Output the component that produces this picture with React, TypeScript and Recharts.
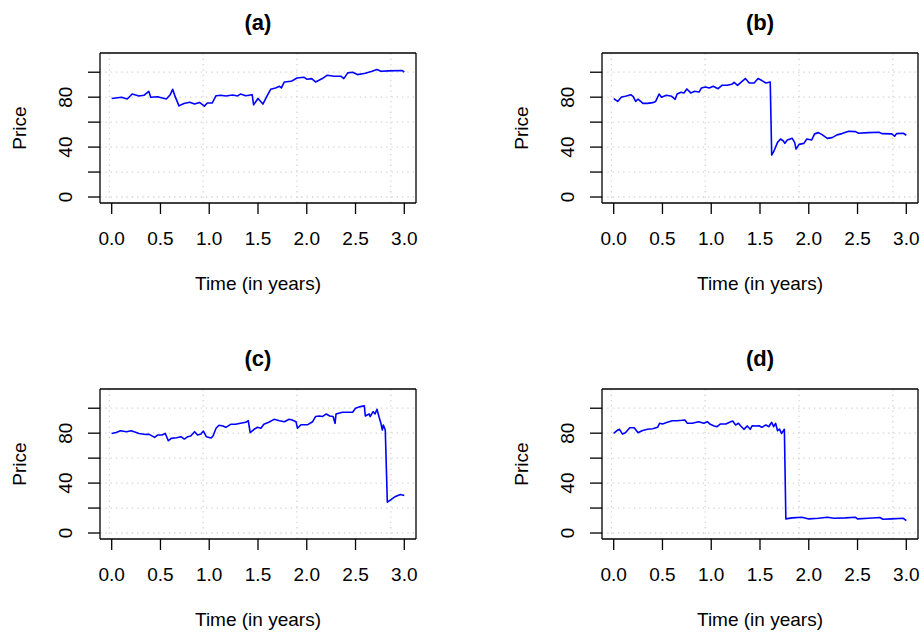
import { Line, LineChart, ReferenceLine, XAxis, YAxis } from "recharts"

// time (years) / price pairs
const pathA: [number, number][] = [
  [0, 79], [0.1, 80], [0.16, 78.5], [0.21, 82.5], [0.28, 81], [0.33, 81.5], [0.38, 84.7], [0.4, 80],
  [0.47, 80.4], [0.56, 78.5], [0.6, 82], [0.625, 86.3], [0.65, 80.6], [0.69, 73], [0.74, 75], [0.8, 76],
  [0.85, 74.5], [0.9, 75.8], [0.95, 72.8], [0.98, 75.3], [1.03, 75.3], [1.07, 81.2], [1.12, 81.5],
  [1.17, 81], [1.24, 81.7], [1.29, 81], [1.32, 82.5], [1.375, 81.2], [1.44, 82], [1.455, 73.9], [1.5, 79],
  [1.55, 74.5], [1.6, 82], [1.63, 86.3], [1.68, 87.4], [1.72, 88.7], [1.74, 87.4], [1.77, 92.2],
  [1.84, 92.7], [1.9, 95.4], [1.97, 96], [2.0, 94.4], [2.05, 94.9], [2.09, 92.2], [2.16, 94.9],
  [2.21, 97.6], [2.28, 96.8], [2.35, 96.8], [2.38, 94.9], [2.42, 99.5], [2.47, 100], [2.52, 98.1],
  [2.6, 99.2], [2.67, 100.8], [2.72, 102.2], [2.76, 100.8], [2.84, 101.1], [2.98, 101.4], [3.0, 100],
]

const pathB: [number, number][] = [
  [0, 78.8], [0.04, 76.6], [0.08, 80.1], [0.12, 80.7], [0.175, 82], [0.2, 80.4], [0.225, 76.6],
  [0.25, 78.5], [0.3, 75], [0.345, 75], [0.4, 75.6], [0.43, 76.6], [0.465, 82.5], [0.49, 79.9],
  [0.54, 81.5], [0.595, 80.7], [0.63, 78.3], [0.65, 82.5], [0.69, 83.9], [0.72, 83.4], [0.75, 86.6],
  [0.79, 83.4], [0.83, 84.7], [0.875, 84.1], [0.9, 87.4], [0.94, 88.2], [0.98, 87.4], [1.02, 88.7],
  [1.07, 86.8], [1.11, 89.5], [1.165, 89.5], [1.21, 90.3], [1.235, 91.9], [1.27, 89.5], [1.31, 92.2],
  [1.35, 94.9], [1.39, 91.4], [1.44, 91.4], [1.48, 94.9], [1.52, 93.3], [1.56, 91.4], [1.605, 92.2],
  [1.62, 33.6], [1.64, 36.3], [1.68, 43.8], [1.71, 46.5], [1.74, 44.9], [1.755, 43], [1.78, 45.7],
  [1.83, 47], [1.855, 43.8], [1.87, 38.4], [1.9, 42.2], [1.95, 43], [1.98, 46.5], [2.03, 45.7],
  [2.06, 50.6], [2.1, 51.6], [2.14, 49.8], [2.19, 47], [2.24, 47.6], [2.29, 49.8], [2.34, 50.8],
  [2.41, 52.7], [2.48, 52.4], [2.51, 51.1], [2.61, 51.6], [2.72, 51.9], [2.75, 50.8], [2.85, 50.6],
  [2.88, 48.7], [2.9, 50.8], [2.97, 51.1], [3.0, 49.5],
]

const pathC: [number, number][] = [
  [0, 79.8], [0.045, 80.6], [0.09, 82], [0.15, 81.2], [0.2, 82], [0.23, 81.2], [0.28, 79.8], [0.35, 79],
  [0.385, 79], [0.44, 76.6], [0.47, 78.5], [0.515, 78.5], [0.55, 79.8], [0.58, 73.9], [0.61, 75.8],
  [0.665, 76.3], [0.71, 77.2], [0.745, 75.3], [0.78, 77.2], [0.81, 77.7], [0.85, 81.2], [0.88, 78.5],
  [0.915, 79.3], [0.94, 81.7], [0.97, 77.2], [1.02, 76.1], [1.04, 78], [1.07, 83.9], [1.1, 86.3],
  [1.14, 85.8], [1.17, 84.7], [1.22, 87.1], [1.27, 87.1], [1.32, 87.9], [1.375, 88.7], [1.4, 90],
  [1.42, 80.4], [1.46, 83.1], [1.495, 84.7], [1.53, 83.9], [1.56, 87.1], [1.61, 88.7], [1.665, 91.1],
  [1.72, 90], [1.77, 89.2], [1.82, 91.1], [1.85, 90.6], [1.89, 89.2], [1.905, 83.9], [1.94, 86.8],
  [2.01, 86.8], [2.06, 89.2], [2.09, 93.3], [2.13, 93.8], [2.16, 93.3], [2.2, 95.4], [2.235, 93.8],
  [2.27, 93.3], [2.29, 87.9], [2.3, 95.4], [2.365, 96.8], [2.47, 96.8], [2.5, 100], [2.55, 101.3],
  [2.59, 101.9], [2.6, 93.8], [2.64, 95.4], [2.65, 93.3], [2.68, 97.3], [2.7, 95.4], [2.72, 99.2],
  [2.74, 93.3], [2.76, 87.9], [2.775, 82.5], [2.785, 86.6], [2.805, 82.5], [2.826, 24.7], [2.86, 26.6],
  [2.91, 29.3], [2.96, 30.9], [3.0, 30.1],
]

const pathD: [number, number][] = [
  [0, 79.8], [0.04, 82.5], [0.06, 83.1], [0.09, 79.3], [0.12, 80.4], [0.165, 84.4], [0.21, 84.4],
  [0.25, 80.4], [0.29, 82], [0.345, 83.1], [0.4, 83.6], [0.45, 84.7], [0.47, 87.9], [0.5, 87.4],
  [0.55, 88.7], [0.6, 90], [0.65, 90], [0.7, 90.3], [0.73, 90.6], [0.755, 87.9], [0.805, 87.9],
  [0.87, 89.2], [0.925, 87.9], [0.96, 89.2], [0.99, 87.1], [1.03, 85.8], [1.06, 85.2], [1.095, 87.4],
  [1.15, 87.4], [1.2, 89.2], [1.22, 89.8], [1.25, 86.6], [1.28, 87.9], [1.3, 86], [1.335, 83.1],
  [1.37, 85.8], [1.4, 83.1], [1.42, 86], [1.455, 85.8], [1.49, 86], [1.52, 84.7], [1.56, 86.6],
  [1.59, 85.2], [1.62, 88.7], [1.64, 85.2], [1.66, 87.9], [1.68, 82], [1.7, 83.3], [1.72, 79.8],
  [1.75, 83.1], [1.765, 11.3], [1.83, 12.1], [1.93, 12.6], [2.0, 11.3], [2.1, 11.8], [2.19, 12.6],
  [2.26, 11.8], [2.375, 12.1], [2.48, 12.6], [2.5, 11.3], [2.61, 11.8], [2.73, 12.4], [2.76, 11],
  [2.85, 11.3], [2.97, 11.8], [3.0, 9.9],
]

const panelTitles = ["(a)", "(b)", "(c)", "(d)"]
const xTicks = [0, 0.5, 1, 1.5, 2, 2.5, 3]
const xTickLabels = ["0.0", "0.5", "1.0", "1.5", "2.0", "2.5", "3.0"]
const yTicks = [0, 20, 40, 60, 80, 100]
const yTickLabels = ["0", "", "40", "", "80", ""]
const gridX = [-0.024, 0.938, 1.9, 2.862]

const FONT = "'Liberation Sans', Arial, Helvetica, sans-serif"
const X_DOMAIN: [number, number] = [-0.12, 3.12]
const Y_DOMAIN: [number, number] = [-4.8, 115.4]
const W = 462
const H = 316
const GRID = "#d3d3d3"
const FS = 19

function XTick(props: any) {
  const { x, y, payload } = props
  const label = xTickLabels[xTicks.indexOf(payload.value)]
  return (
    <g>
      <line x1={x} x2={x} y1={y} y2={y + 11} stroke="#000" strokeWidth={1.3} />
      <text x={x} y={y + 35.5} textAnchor="middle" dominantBaseline="central" fontSize={FS} fontFamily={FONT} fill="#000">
        {label}
      </text>
    </g>
  )
}

function YTick(props: any) {
  const { x, y, payload } = props
  const label = yTickLabels[yTicks.indexOf(payload.value)]
  const lx = x - 34.5
  return (
    <g>
      <line x1={x - 12} x2={x} y1={y} y2={y} stroke="#000" strokeWidth={1.3} />
      {label && (
        <text
          x={lx}
          y={y}
          transform={`rotate(-90, ${lx}, ${y})`}
          textAnchor="middle"
          dominantBaseline="central"
          fontSize={FS}
          fontFamily={FONT}
          fill="#000"
        >
          {label}
        </text>
      )}
    </g>
  )
}

function Panel({ path, title }: { path: [number, number][]; title: string }) {
  const data = path.map(([t, p]) => ({ t, p }))
  return (
    <LineChart width={W} height={H} data={data} margin={{ top: 53, right: 46, left: 0, bottom: 0 }}>
      {gridX.map((gx) => (
        <ReferenceLine key={"gx" + gx} x={gx} stroke={GRID} strokeWidth={1.3} strokeDasharray="1.3 4" />
      ))}
      {yTicks.map((gy) => (
        <ReferenceLine key={"gy" + gy} y={gy} stroke={GRID} strokeWidth={1.3} strokeDasharray="1.3 4" />
      ))}
      {/* top and right edges of the box */}
      <ReferenceLine y={Y_DOMAIN[1]} stroke="#000" strokeWidth={1.3} ifOverflow="visible" />
      <ReferenceLine x={X_DOMAIN[1]} stroke="#000" strokeWidth={1.3} ifOverflow="visible" />
      <XAxis
        dataKey="t"
        type="number"
        domain={X_DOMAIN}
        allowDataOverflow
        ticks={xTicks}
        interval={0}
        height={113}
        tickSize={0}
        tickMargin={0}
        tickLine={false}
        tick={<XTick />}
        axisLine={{ stroke: "#000", strokeWidth: 1.3 }}
        label={(p: any) => {
          const vb = p.viewBox || { x: 100, y: 203, width: 316 }
          return (
            <text x={vb.x + vb.width / 2} y={vb.y + 80.5} textAnchor="middle" dominantBaseline="central" fontSize={FS} fontFamily={FONT} fill="#000">
              Time (in years)
            </text>
          )
        }}
      />
      <YAxis
        type="number"
        domain={Y_DOMAIN}
        allowDataOverflow
        ticks={yTicks}
        interval={0}
        width={100}
        tickSize={0}
        tickMargin={0}
        tickLine={false}
        tick={<YTick />}
        axisLine={{ stroke: "#000", strokeWidth: 1.3 }}
        label={(p: any) => {
          const vb = p.viewBox || { x: 0, y: 53, width: 100, height: 150 }
          const lx = vb.x + 19.5
          const ly = vb.y + vb.height / 2
          // panel title sits centred over the plot box
          const tx = vb.x + vb.width + (W - 46 - vb.x - vb.width) / 2
          return (
            <g>
              <text x={lx} y={ly} transform={`rotate(-90, ${lx}, ${ly})`} textAnchor="middle" dominantBaseline="central" fontSize={FS} fontFamily={FONT} fill="#000">
                Price
              </text>
              <text x={tx} y={vb.y - 31} textAnchor="middle" dominantBaseline="central" fontSize={22} fontWeight="bold" fontFamily={FONT} fill="#000">
                {title}
              </text>
            </g>
          )
        }}
      />
      <Line
        dataKey="p"
        type="linear"
        stroke="#0000ff"
        strokeWidth={1.6}
        strokeLinejoin="round"
        dot={false}
        activeDot={false}
        isAnimationActive={false}
      />
    </LineChart>
  )
}

const paths = [pathA, pathB, pathC, pathD]
const offsets = [
  [0, 0],
  [502, 0],
  [0, 336],
  [502, 336],
]

export default function App() {
  return (
    <div
      style={{
        position: "absolute",
        left: 0,
        top: 0,
        width: 924,
        height: 633,
        overflow: "hidden",
        background: "#fff",
        fontFamily: FONT,
      }}
    >
      {paths.map((path, i) => (
        <div key={i} style={{ position: "absolute", left: offsets[i][0], top: offsets[i][1], width: W, height: H }}>
          <Panel path={path} title={panelTitles[i]} />
        </div>
      ))}
    </div>
  )
}
